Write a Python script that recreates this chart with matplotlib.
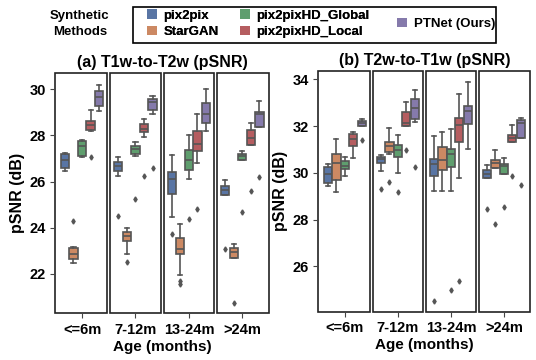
import colorsys
import numpy as np
import matplotlib
matplotlib.use("Agg")
from matplotlib import pyplot as plt
from matplotlib.colors import to_rgb
from matplotlib.patches import Patch, Rectangle
from matplotlib.transforms import blended_transform_factory

plt.rcParams["font.family"] = ["Liberation Sans", "DejaVu Sans"]
plt.rcParams["font.weight"] = "bold"

methods = ["pix2pix", "StarGAN", "pix2pixHD_Global", "pix2pixHD_Local", "PTNet (Ours)"]
ages = ["<=6m", "7-12m", "13-24m", ">24m"]
base_colors = ["#4C72B0", "#DD8452", "#55A868", "#C44E52", "#8172B3"]

# panel (a) T1w-to-T2w, rows = methods, columns = age groups
a_lo = [[26.44, 26.23, 24.45, 25.41],
        [22.46, 22.86, 21.96, 22.68],
        [27.04, 27.12, 26.13, 26.95],
        [28.19, 27.94, 26.82, 27.59],
        [29.05, 28.92, 28.17, 28.36]]
a_q1 = [[26.60, 26.46, 25.48, 25.41],
        [22.65, 23.42, 22.86, 22.68],
        [27.11, 27.21, 26.49, 26.95],
        [28.22, 28.13, 27.31, 27.59],
        [29.28, 29.11, 28.55, 28.36]]
a_med = [[26.92, 26.66, 26.09, 25.63],
         [22.85, 23.65, 23.06, 22.93],
         [27.52, 27.42, 26.92, 27.11],
         [28.43, 28.29, 27.64, 27.90],
         [29.65, 29.42, 28.94, 28.93]]
a_q3 = [[27.17, 26.85, 26.39, 25.81],
        [23.11, 23.80, 23.57, 23.14],
        [27.76, 27.55, 27.35, 27.21],
        [28.62, 28.50, 28.17, 28.21],
        [29.91, 29.55, 29.41, 29.00]]
a_hi = [[27.25, 27.04, 27.14, 26.06],
        [23.18, 23.97, 24.16, 23.31],
        [27.78, 27.73, 28.00, 27.34],
        [29.08, 28.70, 28.91, 28.55],
        [30.19, 29.71, 29.99, 29.47]]
a_fliers = [[[], [24.52], [23.73], [23.06]],
            [[24.29], [22.50], [21.70, 21.55], [20.76]],
            [[], [25.24], [24.36], [24.66]],
            [[27.06], [26.23], [24.83], [25.58]],
            [[], [26.60], [], [26.20]]]

# panel (b) T2w-to-T1w
b_lo = [[29.43, 30.07, 29.23, 29.79],
        [29.16, 30.79, 29.21, 30.19],
        [29.86, 30.00, 29.21, 29.93],
        [30.64, 32.00, 29.79, 31.30],
        [32.00, 32.19, 31.04, 31.51]]
b_q1 = [[29.57, 30.40, 29.86, 29.79],
        [29.69, 30.90, 30.14, 30.19],
        [30.16, 30.66, 30.23, 29.93],
        [31.14, 32.00, 31.33, 31.30],
        [32.00, 32.30, 32.11, 31.51]]
b_med = [[29.97, 30.61, 30.36, 29.97],
         [30.43, 31.16, 30.54, 30.43],
         [30.29, 30.97, 30.79, 30.29],
         [31.43, 32.14, 32.04, 31.51],
         [32.14, 32.79, 32.64, 32.14]]
b_q3 = [[30.23, 30.69, 30.61, 30.11],
        [30.79, 31.33, 31.09, 30.54],
        [30.51, 31.19, 31.00, 30.36],
        [31.66, 32.61, 32.33, 31.61],
        [32.21, 33.16, 32.86, 32.26]]
b_hi = [[30.36, 30.76, 31.59, 30.33],
        [31.47, 31.93, 31.76, 30.97],
        [30.69, 31.61, 31.87, 30.64],
        [31.76, 33.03, 33.37, 32.07],
        [32.30, 33.57, 33.89, 32.33]]
b_fliers = [[[], [29.29], [24.50], [28.47]],
            [[], [29.59], [], [27.80]],
            [[], [29.16], [24.97], [28.55]],
            [[], [30.97], [25.35], [29.86]],
            [[31.40], [30.26], [], [29.47]]]


def desaturate(c, prop=0.75):
    h, l, s = colorsys.rgb_to_hls(*to_rgb(c))
    return colorsys.hls_to_rgb(h, l, s * prop)


colors = [desaturate(c) for c in base_colors]
gray = "#555555"


def draw_panel(ax, lo, q1, med, q3, hi, fliers, ylim, yticks, title):
    n = len(methods)
    for j in range(n):
        stats = []
        for i in range(len(ages)):
            stats.append(dict(whislo=lo[j][i], q1=q1[j][i], med=med[j][i],
                              q3=q3[j][i], whishi=hi[j][i], fliers=fliers[j][i]))
        pos = np.arange(len(ages)) + (j - (n - 1) / 2) * 0.16
        ax.bxp(stats, positions=pos, widths=0.155, patch_artist=True,
               manage_ticks=False,
               boxprops=dict(facecolor=colors[j], edgecolor=gray, linewidth=1.2),
               medianprops=dict(color=gray, linewidth=1.2),
               whiskerprops=dict(color=gray, linewidth=1.2),
               capprops=dict(color=gray, linewidth=1.2),
               flierprops=dict(marker="d", markersize=2.6, markerfacecolor=gray,
                               markeredgecolor=gray, linestyle="none"))
    # one frame around every age group
    trans = blended_transform_factory(ax.transData, ax.transAxes)
    for i in range(len(ages)):
        x0 = -0.5 if i == 0 else i - 0.47
        x1 = 3.5 if i == len(ages) - 1 else i + 0.47
        ax.add_patch(Rectangle((x0, 0), x1 - x0, 1, transform=trans, fill=False,
                               edgecolor="#222222", linewidth=1.2, clip_on=False))
    for s in ax.spines.values():
        s.set_visible(False)
    ax.set_xlim(-0.5, 3.5)
    ax.set_ylim(*ylim)
    ax.set_yticks(yticks)
    ax.set_xticks(range(len(ages)))
    ax.set_xticklabels(ages)
    ax.tick_params(labelsize=10.5, length=3.5, color="#444444")
    ax.set_xlabel("Age (months)", fontsize=11, fontweight="bold", labelpad=2)
    ax.set_ylabel("pSNR (dB)", fontsize=11.5, fontweight="bold", labelpad=3)
    ax.set_title(title, fontsize=11.5, fontweight="bold", pad=4)


fig = plt.figure(figsize=(5.36, 3.6), dpi=100)
ax_a = fig.add_axes([0.1032, 0.1297, 0.3987, 0.668])
ax_b = fig.add_axes([0.594, 0.1342, 0.3955, 0.669])

draw_panel(ax_a, a_lo, a_q1, a_med, a_q3, a_hi, a_fliers,
           (20.3, 30.7), [22, 24, 26, 28, 30], "(a) T1w-to-T2w (pSNR)")
draw_panel(ax_b, b_lo, b_q1, b_med, b_q3, b_hi, b_fliers,
           (24.05, 34.37), [26, 28, 30, 32, 34], "(b) T2w-to-T1w (pSNR)")

handles = [Patch(facecolor=c, edgecolor="none", label=m) for c, m in zip(colors, methods)]
leg_kw = dict(prop=dict(weight="bold", size=9.5), handlelength=0.75, handleheight=0.75,
              handletextpad=0.5, columnspacing=1.6, labelspacing=0.3,
              frameon=False, borderpad=0, borderaxespad=0, loc="center left")
leg1 = fig.legend(handles=handles[:4], ncol=2, bbox_to_anchor=(0.274, 0.934), **leg_kw)
fig.legend(handles=handles[4:], ncol=1, bbox_to_anchor=(0.741, 0.934), **leg_kw)
fig.add_artist(leg1)
fig.patches.append(Rectangle((0.248, 0.881), 0.677, 0.1, transform=fig.transFigure,
                             fill=False, edgecolor="black", linewidth=1.2))
fig.text(0.149, 0.933, "Synthetic\nMethods", ha="center", va="center",
         fontsize=9.5, fontweight="bold", linespacing=1.45)

fig.savefig("out.png", dpi=100)
